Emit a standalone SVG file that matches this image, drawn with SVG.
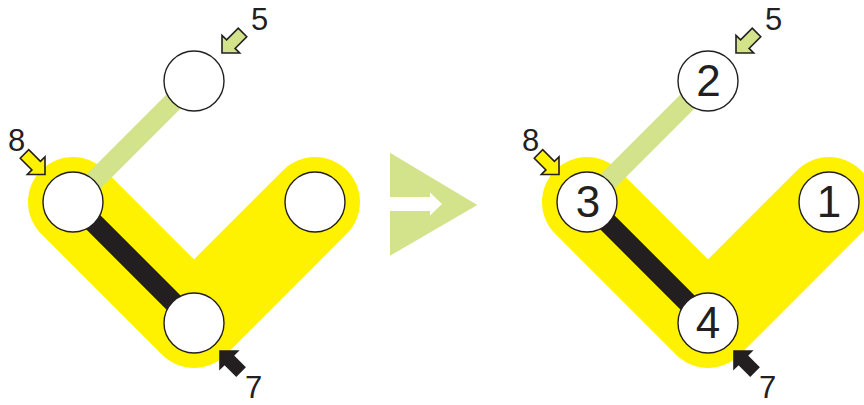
<svg xmlns="http://www.w3.org/2000/svg" xmlns:xlink="http://www.w3.org/1999/xlink" width="864" height="405" viewBox="0 0 864 405">
<style>
.band{fill:none;stroke:#fff200;stroke-width:90;stroke-linecap:round;stroke-linejoin:round}
.green{stroke:#d2e38b;stroke-width:20;stroke-linecap:butt}
.black{stroke:#231f20;stroke-width:20;stroke-linecap:butt}
.node{fill:#ffffff;stroke:#231f20;stroke-width:1.4}
.num{font-family:"Liberation Sans",Arial,sans-serif;font-size:44px;fill:#231f20;text-anchor:middle}
.lab{font-family:"Liberation Sans",Arial,sans-serif;font-size:31px;fill:#231f20}
.pg{fill:#d2e38b;stroke:#231f20;stroke-width:1.6;stroke-linejoin:miter}
.py{fill:#fff200;stroke:#231f20;stroke-width:1.6;stroke-linejoin:miter}
.pk{fill:#231f20;stroke:#231f20;stroke-width:1.6;stroke-linejoin:miter}
</style>
<defs>
<path id="fat" d="M0,0 L-12.5,-12.5 L-12.5,-6 L-29,-6 L-29,6 L-12.5,6 L-12.5,12.5 Z"/>
</defs>
<rect width="864" height="405" fill="#ffffff"/>

<!-- left diagram -->
<g id="left-band"><polyline class="band" points="73,202 194,323 315,202"/></g>
<g id="left-connectors">
<line class="green" x1="194" y1="81" x2="73" y2="202"/>
<line class="black" x1="73" y1="202" x2="194" y2="323"/>
</g>
<g id="left-node-top"><circle class="node" cx="194" cy="81" r="30"/></g>
<g id="left-node-left"><circle class="node" cx="73" cy="202" r="30"/></g>
<g id="left-node-right"><circle class="node" cx="315" cy="202" r="30"/></g>
<g id="left-node-bottom"><circle class="node" cx="194" cy="323" r="30"/></g>
<g id="left-annotations">
<use xlink:href="#fat" href="#fat" class="pg" transform="translate(222,53) rotate(135)"/>
<text class="lab" x="251" y="30">5</text>
<use xlink:href="#fat" href="#fat" class="py" transform="translate(45,174.5) rotate(45)"/>
<text class="lab" x="8" y="150.5">8</text>
<use xlink:href="#fat" href="#fat" class="pk" transform="translate(220,351) rotate(225)"/>
<text class="lab" x="245" y="398">7</text>
</g>

<!-- transition arrow -->
<g id="transition-arrow">
<polygon points="390,152.7 477.3,205 390,255.7" fill="#d2e38b"/>
<polygon points="390,197 430,197 430,192.5 442,204 430,215.5 430,211 390,211" fill="#ffffff"/>
</g>

<!-- right diagram -->
<g id="right-band"><polyline class="band" points="587,202 708,323 829,202"/></g>
<g id="right-connectors">
<line class="green" x1="708" y1="81" x2="587" y2="202"/>
<line class="black" x1="587" y1="202" x2="708" y2="323"/>
</g>
<g id="node-2"><circle class="node" cx="708" cy="81" r="30"/><text class="num" x="708.5" y="96">2</text></g>
<g id="node-3"><circle class="node" cx="587" cy="202" r="30"/><text class="num" x="588" y="217">3</text></g>
<g id="node-1"><circle class="node" cx="829" cy="202" r="30"/><text class="num" x="829" y="217">1</text></g>
<g id="node-4"><circle class="node" cx="708" cy="323" r="30"/><text class="num" x="708" y="338">4</text></g>
<g id="right-annotations">
<use xlink:href="#fat" href="#fat" class="pg" transform="translate(736,53) rotate(135)"/>
<text class="lab" x="765" y="30">5</text>
<use xlink:href="#fat" href="#fat" class="py" transform="translate(559,174.5) rotate(45)"/>
<text class="lab" x="522" y="150.5">8</text>
<use xlink:href="#fat" href="#fat" class="pk" transform="translate(734,351) rotate(225)"/>
<text class="lab" x="759" y="398">7</text>
</g>
</svg>
